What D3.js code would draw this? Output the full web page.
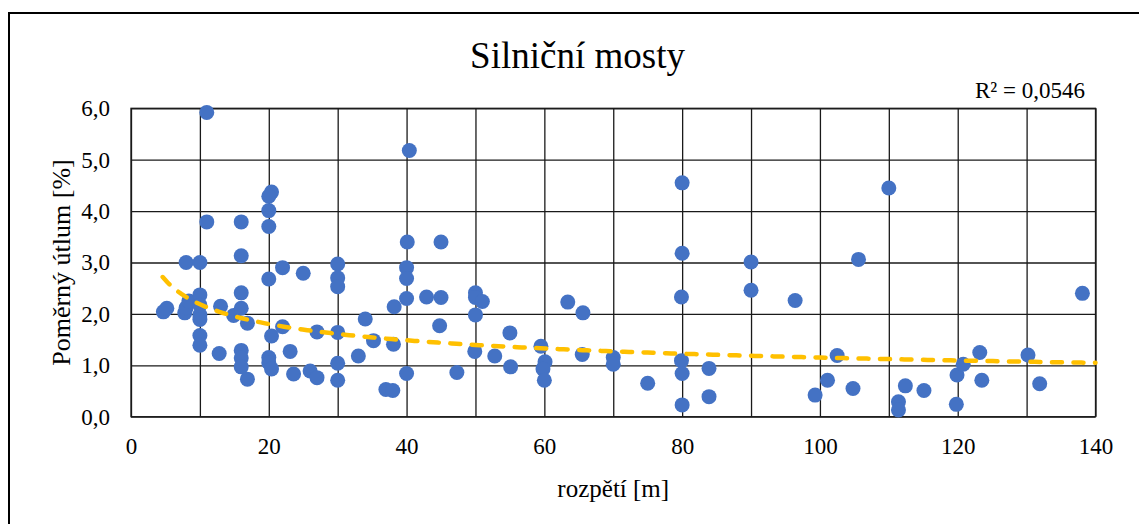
<!DOCTYPE html>
<html>
<head>
<meta charset="utf-8">
<script src="https://cdn.jsdelivr.net/npm/d3@7"></script>
<style>
  html, body { margin: 0; padding: 0; background: #fff; }
  svg { display: block; }
</style>
</head>
<body>
<svg id="chart" width="1139" height="524"></svg>
<script>
// Bridge span [m]
const spans = [
  4.7, 5.2, 7.8, 8.0, 8.4, 8.0, 10.0, 10.0, 10.0, 10.0, 10.0, 10.0, 10.0,
  11.0, 11.0, 12.8, 13.0, 14.9, 16.0, 16.0, 16.0, 16.0, 16.9, 16.0, 16.0, 16.0, 16.9,
  20.4, 20.0, 20.0, 20.0, 20.0, 20.4, 20.0, 20.0, 20.4,
  22.0, 22.0, 23.1, 23.6, 25.0, 26.0, 27.0, 27.0,
  30.0, 30.0, 30.0, 30.0, 30.0, 30.0, 33.0, 34.0, 35.2, 37.0, 38.0, 38.1, 38.2,
  40.4, 40.1, 40.0, 40.0, 40.0, 40.0, 42.9, 45.0, 45.0, 44.8, 47.3,
  50.0, 50.0, 51.0, 50.0, 49.9, 52.8, 55.0, 55.1,
  59.5, 60.1, 59.8, 60.0, 63.4, 65.6, 65.5, 70.0, 70.0, 75.0,
  80.0, 80.0, 79.9, 79.9, 80.0, 80.0, 83.9, 83.9,
  90.0, 90.0, 96.4, 99.3, 101.1, 102.5, 104.8, 105.6,
  110.0, 111.4, 111.4, 112.4, 115.1, 119.9, 120.8, 119.8, 123.2, 123.5,
  130.2, 131.9, 138.1
];

// Relative damping [%]
const damping = [
  2.04, 2.11, 2.02, 2.12, 2.25, 3.00, 3.00, 2.37, 2.17, 1.98, 1.89, 1.58, 1.39,
  5.92, 3.79, 1.23, 2.15, 1.97, 3.79, 3.13, 2.41, 2.11, 1.82, 1.29, 1.14, 0.97, 0.73,
  4.37, 4.29, 4.01, 3.70, 2.68, 1.57, 1.15, 1.05, 0.93,
  2.90, 1.75, 1.27, 0.83, 2.79, 0.89, 1.65, 0.76,
  2.97, 2.70, 2.53, 1.64, 1.04, 0.71, 1.18, 1.90, 1.48, 0.53, 0.51, 1.41, 2.14,
  5.18, 3.40, 2.90, 2.69, 2.30, 0.84, 2.33, 3.40, 2.32, 1.77, 0.86,
  2.41, 2.32, 2.24, 1.98, 1.27, 1.18, 1.63, 0.97,
  1.37, 1.07, 0.93, 0.71, 2.23, 2.02, 1.21, 1.15, 1.02, 0.65,
  4.55, 3.18, 2.33, 1.09, 0.84, 0.23, 0.94, 0.39,
  3.01, 2.46, 2.26, 0.42, 0.71, 1.19, 0.55, 3.06,
  4.45, 0.29, 0.13, 0.60, 0.51, 0.81, 1.02, 0.24, 1.25, 0.71,
  1.20, 0.64, 2.40
];

// Power trendline y = a * x^b (coefficient a, exponent b) and its span range
const trendCoef = [4.16, -0.279];
const trendRange = [4.6, 140];

const xTicks = [0, 20, 40, 60, 80, 100, 120, 140];
const xGrid = [0, 10, 20, 30, 40, 50, 60, 70, 80, 90, 100, 110, 120, 130, 140];
const yTicks = [0, 1, 2, 3, 4, 5, 6];

const titleText = "Silniční mosty";
const xTitle = "rozpětí [m]";
const yTitle = "Poměrný útlum [%]";
const r2Text = "R² = 0,0546";

const FONT = '"Liberation Serif", "Times New Roman", serif';

const svg = d3.select("#chart");
const plot = { left: 131, top: 108.3, right: 1095.5, bottom: 416.7 };

const x = d3.scaleLinear().domain([0, 140]).range([plot.left, plot.right]);
const y = d3.scaleLinear().domain([0, 6]).range([plot.bottom, plot.top]);

const czFormat = d3.formatLocale({ decimal: ",", thousands: "\u00a0", grouping: [3], currency: ["", " Kč"] });
const fmt1 = czFormat.format(".1f");

// Chart-area frame (extends past the right and bottom edges)
svg.append("rect")
  .attr("x", 9).attr("y", 13)
  .attr("width", 1150).attr("height", 530)
  .attr("fill", "none").attr("stroke", "#000").attr("stroke-width", 2);

// Gridlines
const gridColor = "#1a1a1a";
svg.append("g")
  .attr("transform", `translate(0,${plot.bottom})`)
  .call(d3.axisBottom(x).tickValues(xGrid).tickSize(-(plot.bottom - plot.top)).tickFormat(""))
  .call(g => g.select(".domain").remove())
  .call(g => g.selectAll("line").attr("stroke", gridColor).attr("stroke-width", 1.3));

svg.append("g")
  .attr("transform", `translate(${plot.left},0)`)
  .call(d3.axisLeft(y).tickValues(yTicks).tickSize(-(plot.right - plot.left)).tickFormat(""))
  .call(g => g.select(".domain").remove())
  .call(g => g.selectAll("line").attr("stroke", gridColor).attr("stroke-width", 1.3));

// Plot border
svg.append("rect")
  .attr("x", plot.left).attr("y", plot.top)
  .attr("width", plot.right - plot.left).attr("height", plot.bottom - plot.top)
  .attr("fill", "none").attr("stroke", gridColor).attr("stroke-width", 1.3);

// Tick labels
svg.append("g")
  .attr("transform", `translate(0,${plot.bottom})`)
  .call(d3.axisBottom(x).tickValues(xTicks).tickSize(0).tickPadding(21).tickFormat(d3.format("d")))
  .attr("font-family", FONT).attr("font-size", 23)
  .call(g => g.select(".domain").remove())
  .call(g => g.selectAll("text").style("font-family", FONT).style("font-size", "23px").attr("fill", "#000"));

svg.append("g")
  .attr("transform", `translate(${plot.left},0)`)
  .call(d3.axisLeft(y).tickValues(yTicks).tickSize(0).tickPadding(21).tickFormat(fmt1))
  .attr("font-family", FONT).attr("font-size", 23)
  .call(g => g.select(".domain").remove())
  .call(g => g.selectAll("text").style("font-family", FONT).style("font-size", "23px").attr("fill", "#000"));

// Data points
svg.append("g")
  .selectAll("circle")
  .data(spans.map((s, i) => [s, damping[i]]))
  .join("circle")
  .attr("cx", d => x(d[0]))
  .attr("cy", d => y(d[1]))
  .attr("r", 7.5)
  .attr("fill", "#4472C4");

// Trendline
const [ta, tb] = trendCoef;
const trend = d3.range(0, 201).map(i => {
  const xv = trendRange[0] + (trendRange[1] - trendRange[0]) * i / 200;
  return [xv, ta * Math.pow(xv, tb)];
});
svg.append("path")
  .datum(trend)
  .attr("d", d3.line().x(d => x(d[0])).y(d => y(d[1])))
  .attr("fill", "none")
  .attr("stroke", "#FFC000")
  .attr("stroke-width", 4.5)
  .attr("stroke-linecap", "round")
  .attr("stroke-dasharray", "10 11.5");

// Titles
const label = (txt, size) => svg.append("text")
  .style("font-family", FONT).style("font-size", size + "px")
  .attr("fill", "#000").text(txt);

label(titleText, 37).attr("x", 577.5).attr("y", 68).attr("text-anchor", "middle");
label(r2Text, 23).attr("x", 1085).attr("y", 98).attr("text-anchor", "end");
label(xTitle, 25).attr("x", (plot.left + plot.right) / 2).attr("y", 497).attr("text-anchor", "middle");
label(yTitle, 26)
  .attr("transform", `translate(70,${(plot.top + plot.bottom) / 2}) rotate(-90)`)
  .attr("text-anchor", "middle");
</script>
</body>
</html>
